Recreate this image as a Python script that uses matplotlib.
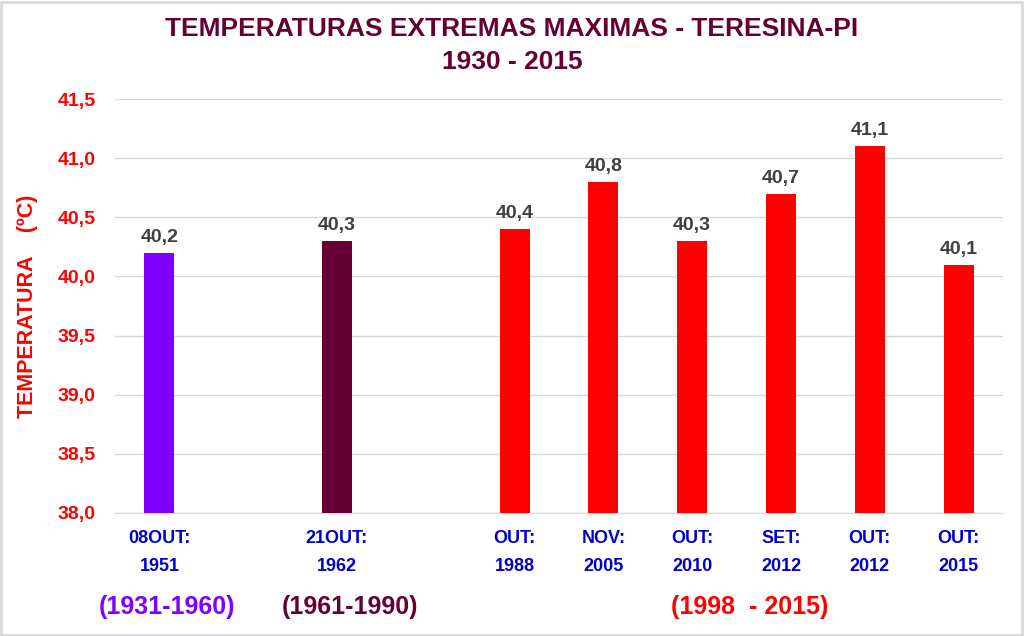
import numpy as np
import matplotlib.pyplot as plt
from matplotlib.patches import Rectangle

# slots 1 and 3 are empty gaps in the original chart
labels = ["08OUT:\n1951", "", "21OUT:\n1962", "", "OUT:\n1988", "NOV:\n2005",
          "OUT:\n2010", "SET:\n2012", "OUT:\n2012", "OUT:\n2015"]
values = [40.2, np.nan, 40.3, np.nan, 40.4, 40.8, 40.3, 40.7, 41.1, 40.1]
value_text = ["40,2", "", "40,3", "", "40,4", "40,8", "40,3", "40,7", "41,1", "40,1"]
colors = ["#7F00FF", "none", "#660033", "none", "#FF0000", "#FF0000",
          "#FF0000", "#FF0000", "#FF0000", "#FF0000"]
yticks = [38.0, 38.5, 39.0, 39.5, 40.0, 40.5, 41.0, 41.5]

periods = ["(1931-1960)", "(1961-1990)", "(1998  - 2015)"]
period_colors = ["#7F00FF", "#660033", "#FF0000"]
period_x = [0.09, 2.15, 6.65]

ARIAL = ["Liberation Sans", "DejaVu Sans"]


def main() -> None:
    fig = plt.figure(figsize=(10.24, 6.36), dpi=100)
    ax = fig.add_axes([0.1123, 0.1934, 0.8672, 0.6509])

    x = np.arange(len(values))
    base = yticks[0]
    heights = np.array(values) - base
    ax.bar(x, heights, bottom=base, width=0.34, color=colors, zorder=3)

    for xi, v, t in zip(x, values, value_text):
        if t:
            ax.text(xi, v + 0.06, t, ha="center", va="bottom", fontsize=14,
                    fontweight="bold", color="#404040", family=ARIAL)

    ax.set_xlim(-0.5, len(values) - 0.5)
    ax.set_ylim(38.0, 41.5)
    ax.set_yticks(yticks)
    ax.set_yticklabels([f"{t:.1f}".replace(".", ",") for t in yticks],
                       fontsize=14, fontweight="bold", color="#FF0000", family=ARIAL)
    ax.set_xticks(x)
    ax.set_xticklabels(labels, fontsize=13, fontweight="bold", color="#0000CC",
                       family=ARIAL, linespacing=1.85)
    ax.tick_params(axis="both", length=0)
    ax.tick_params(axis="x", pad=12)
    ax.tick_params(axis="y", pad=14)

    ax.yaxis.grid(True, color="#D9D9D9", linewidth=1, zorder=0)
    for s in ["top", "right", "left"]:
        ax.spines[s].set_visible(False)
    ax.spines["bottom"].set_color("#D9D9D9")

    ax.set_ylabel("TEMPERATURA    (ºC)", fontsize=15.5, fontweight="bold",
                  color="#FF0000", family=ARIAL, labelpad=14)

    fig.text(0.5, 0.955, "TEMPERATURAS EXTREMAS MAXIMAS - TERESINA-PI",
             ha="center", va="center", fontsize=19, fontweight="bold",
             color="#660033", family=ARIAL)
    fig.text(0.5, 0.902, "1930 - 2015", ha="center", va="center", fontsize=19,
             fontweight="bold", color="#660033", family=ARIAL)

    for p, c, px in zip(periods, period_colors, period_x):
        xf = fig.transFigure.inverted().transform(ax.transData.transform((px, 38.0)))[0]
        fig.text(xf, 0.045, p, ha="center", va="center", fontsize=18,
                 fontweight="bold", color=c, family=ARIAL)

    fig.patches.append(Rectangle((0.001, 0.002), 0.997, 0.995, transform=fig.transFigure,
                                 fill=False, edgecolor="#D9D9D9", linewidth=2))

    fig.savefig("out.png", dpi=100)


if __name__ == "__main__":
    main()
